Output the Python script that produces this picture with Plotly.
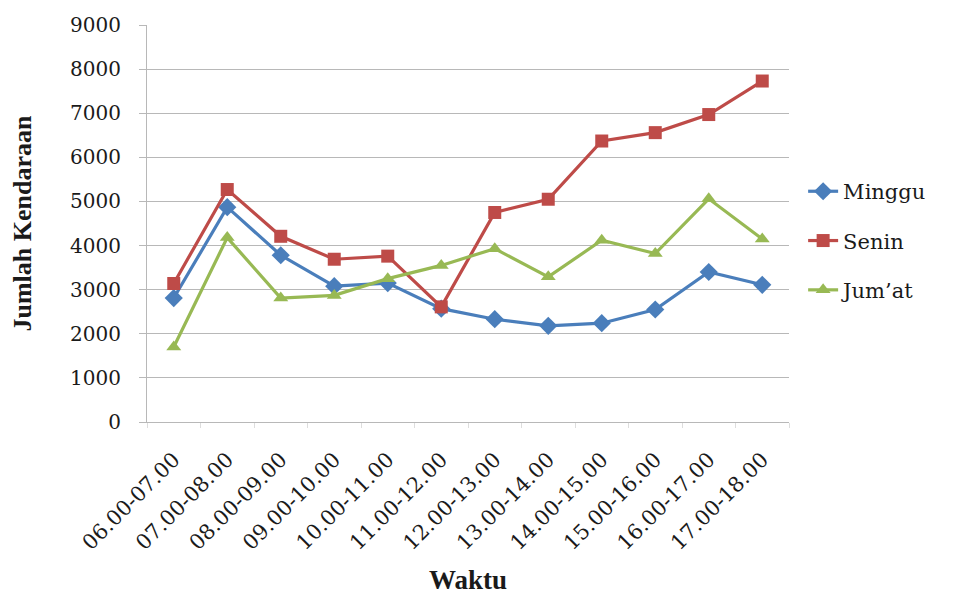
import plotly.graph_objects as go

categories = ["06.00-07.00", "07.00-08.00", "08.00-09.00", "09.00-10.00", "10.00-11.00",
              "11.00-12.00", "12.00-13.00", "13.00-14.00", "14.00-15.00", "15.00-16.00",
              "16.00-17.00", "17.00-18.00"]
minggu = [2810, 4870, 3780, 3080, 3150, 2570, 2330, 2180, 2240, 2550, 3400, 3110]
senin = [3140, 5270, 4210, 3690, 3760, 2610, 4750, 5050, 6370, 6560, 6970, 7730]
jumat = [1700, 4180, 2810, 2870, 3250, 3550, 3930, 3290, 4120, 3820, 5060, 4150]

series = [
    ("Minggu", minggu, "#4A7EBB", "diamond", 14),
    ("Senin", senin, "#BE4B48", "square", 13),
    ("Jum\u2019at", jumat, "#98B954", "triangle-up", 13),
]

FONT = "DejaVu Serif"
TFONT = "'Times New Roman', 'Liberation Serif', serif"
TXT = "#1a1a1a"
GRID = "#B8B8B8"

fig = go.Figure()
for name, vals, color, sym, size in series:
    fig.add_trace(go.Scatter(
        x=categories, y=vals, name=name, mode="lines+markers",
        line=dict(color=color, width=3.2),
        marker=dict(symbol=sym, size=size, color=color),
        legendgroup=name,
    ))

fig.update_layout(
    width=960, height=596,
    paper_bgcolor="white", plot_bgcolor="white",
    margin=dict(l=139, r=179, t=17, b=182, autoexpand=False),
    font=dict(family=FONT, size=20, color=TXT),
    showlegend=True,
    legend=dict(x=1.022, y=0.632, xanchor="left", yanchor="top",
                font=dict(family=FONT, size=21, color=TXT),
                tracegroupgap=19, itemwidth=30, bgcolor="rgba(0,0,0,0)"),
    xaxis=dict(
        type="category", tickangle=-45, showgrid=False, automargin=False,
        showline=True, linecolor=GRID, linewidth=1,
        ticks="outside", tickson="boundaries", ticklen=5, tickcolor="#DDDDDD",
        ticklabelstandoff=16,
        tickfont=dict(family=FONT, size=21, color=TXT),
        title=dict(text="<b>Waktu</b>", font=dict(family=TFONT, size=27, color=TXT), standoff=16),
        range=[-0.5, 11.5],
    ),
    yaxis=dict(
        range=[0, 9000], dtick=1000, showgrid=True, gridcolor=GRID, gridwidth=1,
        automargin=False,
        showline=True, linecolor=GRID, linewidth=1, zeroline=False,
        ticks="outside", ticklen=7, tickcolor=GRID, ticklabelstandoff=14,
        tickfont=dict(family=FONT, size=20, color=TXT),
        title=dict(text="<b>Jumlah Kendaraan</b>", font=dict(family=TFONT, size=26, color=TXT), standoff=34),
    ),
)

fig.write_html("out.html")
